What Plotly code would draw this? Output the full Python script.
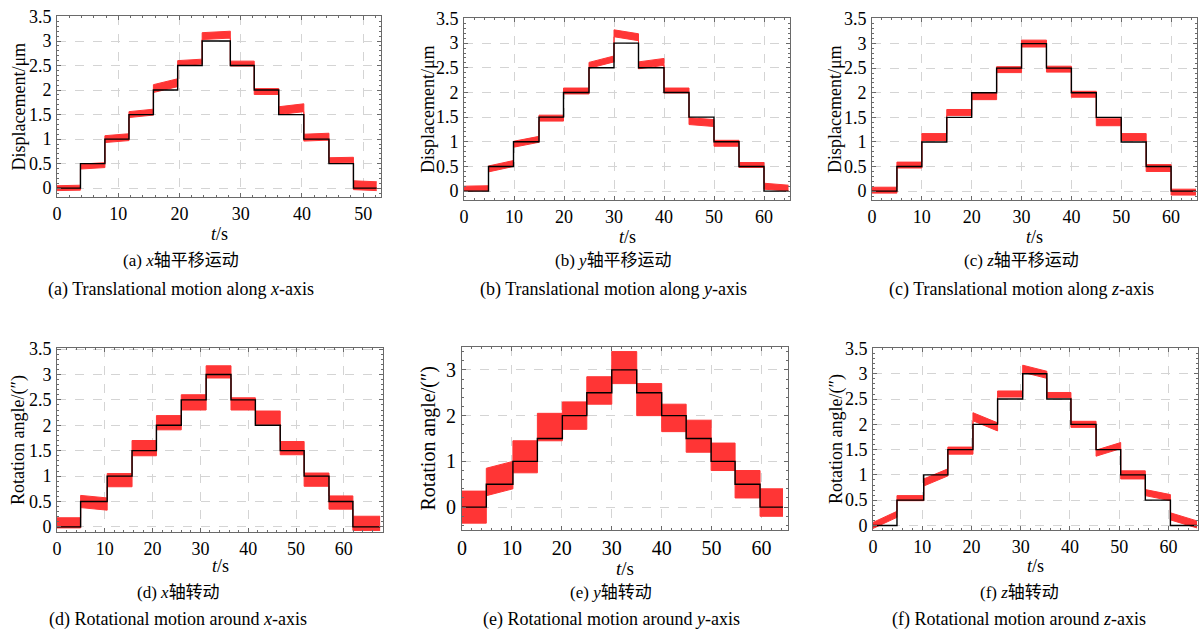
import plotly.graph_objects as go

W, H = 1199, 632
SERIF = "Liberation Serif, Times New Roman, serif"
CJK = "Liberation Serif, Noto Sans CJK SC, serif"

# reference (commanded) levels for every panel
REF_LEVELS = [0, 0.5, 1, 1.5, 2, 2.5, 3, 2.5, 2, 1.5, 1, 0.5, 0]

# ---- (a) x translation ----
a_steps = [0, 3.83, 7.82, 11.75, 15.74, 19.7, 23.7, 28.3, 32.2, 36.2, 40.3, 44.4, 48.4, 52.2]
a_start = [0.00, 0.44, 1.00, 1.50, 2.03, 2.55, 3.10, 2.54, 1.97, 1.58, 1.03, 0.57, 0.06]
a_end   = [0.01, 0.47, 1.04, 1.55, 2.15, 2.58, 3.13, 2.54, 1.97, 1.64, 1.05, 0.58, 0.04]
a_hw    = [0.05, 0.05, 0.07, 0.06, 0.08, 0.05, 0.07, 0.05, 0.06, 0.08, 0.07, 0.05, 0.09]

# ---- (b) y translation ----
b_steps = [0, 4.9, 9.9, 15, 19.9, 25, 30, 34.9, 40, 45, 50, 55, 60, 64.9]
b_start = [0.05, 0.45, 0.95, 1.48, 2.03, 2.55, 3.20, 2.55, 2.04, 1.42, 0.97, 0.53, 0.10]
b_end   = [0.06, 0.56, 1.05, 1.48, 2.03, 2.68, 3.12, 2.62, 2.04, 1.38, 0.97, 0.53, 0.06]
b_hw    = [0.05, 0.06, 0.06, 0.06, 0.06, 0.06, 0.07, 0.07, 0.05, 0.07, 0.06, 0.05, 0.06]

# ---- (c) z translation ----
c_steps = [0, 5, 10, 15, 20, 25, 30, 35, 40, 45, 50, 55, 60, 65]
c_start = [0.02, 0.53, 1.10, 1.60, 1.93, 2.47, 3.00, 2.48, 1.97, 1.40, 1.10, 0.47, -0.02]
c_end   = [0.02, 0.53, 1.10, 1.60, 1.93, 2.47, 3.00, 2.48, 1.97, 1.40, 1.10, 0.47, -0.02]
c_hw    = [0.06, 0.06, 0.07, 0.06, 0.07, 0.06, 0.07, 0.06, 0.06, 0.07, 0.07, 0.07, 0.06]

# ---- (d) x rotation ----
d_steps = [0, 4.94, 10.5, 15.7, 20.8, 26, 31.2, 36.4, 41.5, 46.7, 51.7, 56.9, 61.9, 67.6]
d_start = [0.08, 0.50, 0.92, 1.55, 2.05, 2.45, 3.05, 2.42, 2.15, 1.55, 0.93, 0.48, 0.07]
d_end   = [0.08, 0.45, 0.92, 1.55, 2.05, 2.45, 3.05, 2.42, 2.15, 1.55, 0.93, 0.48, 0.07]
d_hw    = [0.10, 0.12, 0.13, 0.15, 0.14, 0.15, 0.12, 0.12, 0.13, 0.13, 0.13, 0.13, 0.14]

# ---- (e) y rotation ----
e_steps = [0, 4.87, 10.2, 15.1, 20.1, 25, 30, 35, 40, 44.9, 49.9, 54.7, 59.7, 64.3]
e_start = [0.00, 0.55, 1.10, 1.75, 2.00, 2.55, 3.05, 2.35, 1.95, 1.55, 1.10, 0.50, 0.10]
e_end   = [0.00, 0.70, 1.10, 1.75, 2.00, 2.55, 3.05, 2.35, 1.95, 1.55, 1.10, 0.50, 0.10]
e_hw    = [0.35, 0.30, 0.35, 0.30, 0.30, 0.30, 0.35, 0.35, 0.30, 0.35, 0.30, 0.30, 0.30]

# ---- (f) z rotation ----
f_steps = [0, 4.87, 10.3, 15.2, 20.3, 25.3, 30.4, 35.3, 40.2, 45.3, 50.3, 55.3, 60.4, 65.8]
f_start = [0.00, 0.54, 0.85, 1.48, 2.15, 2.60, 3.10, 2.58, 2.00, 1.43, 1.00, 0.65, 0.18]
f_end   = [0.22, 0.54, 1.05, 1.48, 1.95, 2.60, 2.98, 2.58, 2.00, 1.58, 1.00, 0.55, 0.02]
f_hw    = [0.06, 0.05, 0.07, 0.07, 0.08, 0.06, 0.07, 0.05, 0.06, 0.06, 0.08, 0.06, 0.07]

# axis ranges
a_xr, a_yr = [0, 52.9], [-0.18, 3.51]
b_xr, b_yr = [0, 65.2], [-0.18, 3.51]
c_xr, c_yr = [0, 65.2], [-0.18, 3.52]
d_xr, d_yr = [0, 68.2], [-0.10, 3.52]
e_xr, e_yr = [0, 65.3], [-0.50, 3.50]
f_xr, f_yr = [0, 66.0], [-0.09, 3.51]

cn_caps = ["(a) <i>x</i>轴平移运动", "(b) <i>y</i>轴平移运动", "(c) <i>z</i>轴平移运动",
           "(d) <i>x</i>轴转动", "(e) <i>y</i>轴转动", "(f) <i>z</i>轴转动"]
en_caps = ["(a) Translational motion along <i>x</i>-axis",
           "(b) Translational motion along <i>y</i>-axis",
           "(c) Translational motion along <i>z</i>-axis",
           "(d) Rotational motion around <i>x</i>-axis",
           "(e) Rotational motion around <i>y</i>-axis",
           "(f) Rotational motion around <i>z</i>-axis"]
y_titles = ["Displacement/μm"] * 3 + ["Rotation angle/(″)"] * 3

panels = [
    (a_steps, a_start, a_end, a_hw, a_xr, a_yr),
    (b_steps, b_start, b_end, b_hw, b_xr, b_yr),
    (c_steps, c_start, c_end, c_hw, c_xr, c_yr),
    (d_steps, d_start, d_end, d_hw, d_xr, d_yr),
    (e_steps, e_start, e_end, e_hw, e_xr, e_yr),
    (f_steps, f_start, f_end, f_hw, f_xr, f_yr),
]

# layout geometry (pixels): left, right, top, bottom of each plot frame
boxes = [(57, 381, 16, 197), (464, 790, 18, 200), (872, 1197, 18, 200),
         (57, 383, 348, 532), (462, 788, 347, 530), (873, 1198, 348, 530)]
ytitle_x = [18, 428, 835, 18, 428, 836]
cap_x = [181, 613, 1021, 178, 611, 1019]
tlabel_y = [234, 237, 237, 566, 568, 566]
big = [False, False, False, False, True, False]

RED = "#ff3535"
fig = go.Figure()
layout = dict(width=W, height=H, autosize=False,
              margin=dict(l=0, r=0, t=0, b=0, pad=0, autoexpand=False),
              paper_bgcolor="white", plot_bgcolor="white", showlegend=False,
              font=dict(family=SERIF, color="black"),
              annotations=[])

for i, (steps, st, en, hw, xr, yr) in enumerate(panels):
    k = "" if i == 0 else str(i + 1)
    xa, ya = "x" + k, "y" + k
    # red measured band
    xs, lo, hi = [], [], []
    for j in range(len(st)):
        xs += [steps[j], steps[j + 1]]
        lo += [st[j] - hw[j], en[j] - hw[j]]
        hi += [st[j] + hw[j], en[j] + hw[j]]
    fig.add_trace(go.Scatter(x=xs, y=lo, mode="lines", line=dict(color=RED, width=1),
                             xaxis=xa, yaxis=ya, hoverinfo="skip"))
    fig.add_trace(go.Scatter(x=xs, y=hi, mode="lines", line=dict(color=RED, width=1),
                             fill="tonexty", fillcolor=RED,
                             xaxis=xa, yaxis=ya, hoverinfo="skip"))
    # black reference staircase
    fig.add_trace(go.Scatter(x=steps, y=REF_LEVELS + [REF_LEVELS[-1]], mode="lines",
                             line=dict(color="black", width=1.4, shape="hv"),
                             xaxis=xa, yaxis=ya, hoverinfo="skip"))

    l, r, t, b = boxes[i]
    fs = 20 if big[i] else 18
    common = dict(showline=True, linecolor="#6a6a6a", linewidth=1, mirror="allticks",
                  ticks="inside", ticklen=4, tickcolor="#6a6a6a", automargin=False,
                  showgrid=True, gridcolor="#d4d4d4", griddash="dash", gridwidth=1,
                  zeroline=False, tickfont=dict(family=SERIF, size=fs, color="black"))
    layout["xaxis" + k] = dict(common, domain=[l / W, r / W], anchor=ya, range=xr,
                               dtick=10, tick0=0,
                               minor=dict(ticks="inside", ticklen=2, dtick=2, tickcolor="#6a6a6a"))
    ydt = 1 if big[i] else 0.5
    layout["yaxis" + k] = dict(common, domain=[1 - b / H, 1 - t / H], anchor=xa, range=yr,
                               dtick=ydt, tick0=0, ticklabelstandoff=1,
                               minor=dict(ticks="inside", ticklen=2, dtick=ydt / 5, tickcolor="#6a6a6a"))
    # titles
    row1 = i < 3
    layout["annotations"].append(dict(
        text=y_titles[i], xref="paper", yref="paper", x=ytitle_x[i] / W,
        y=1 - ((t + b) / 2) / H, textangle=-90, showarrow=False,
        font=dict(family=SERIF, size=20 if big[i] else 18, color="black"),
        xanchor="center", yanchor="middle"))
    layout["annotations"].append(dict(
        text="<i>t</i>/s", xref="paper", yref="paper", x=((l + r) / 2) / W,
        y=1 - tlabel_y[i] / H, showarrow=False,
        font=dict(family=SERIF, size=19 if big[i] else 18, color="black"),
        xanchor="center", yanchor="middle", borderpad=0))
    layout["annotations"].append(dict(
        text=cn_caps[i], xref="paper", yref="paper", x=cap_x[i] / W,
        y=1 - (260 if row1 else 592) / H, showarrow=False,
        font=dict(family=CJK, size=17, color="black"),
        xanchor="center", yanchor="middle"))
    layout["annotations"].append(dict(
        text=en_caps[i], xref="paper", yref="paper", x=cap_x[i] / W,
        y=1 - (289 if row1 else 619) / H, showarrow=False,
        font=dict(family=SERIF, size=18, color="black"),
        xanchor="center", yanchor="middle"))

fig.update_layout(**layout)
fig.write_html("out.html", config={"displayModeBar": False},
               post_script="document.body.style.margin='0';document.body.style.overflow='hidden';")
